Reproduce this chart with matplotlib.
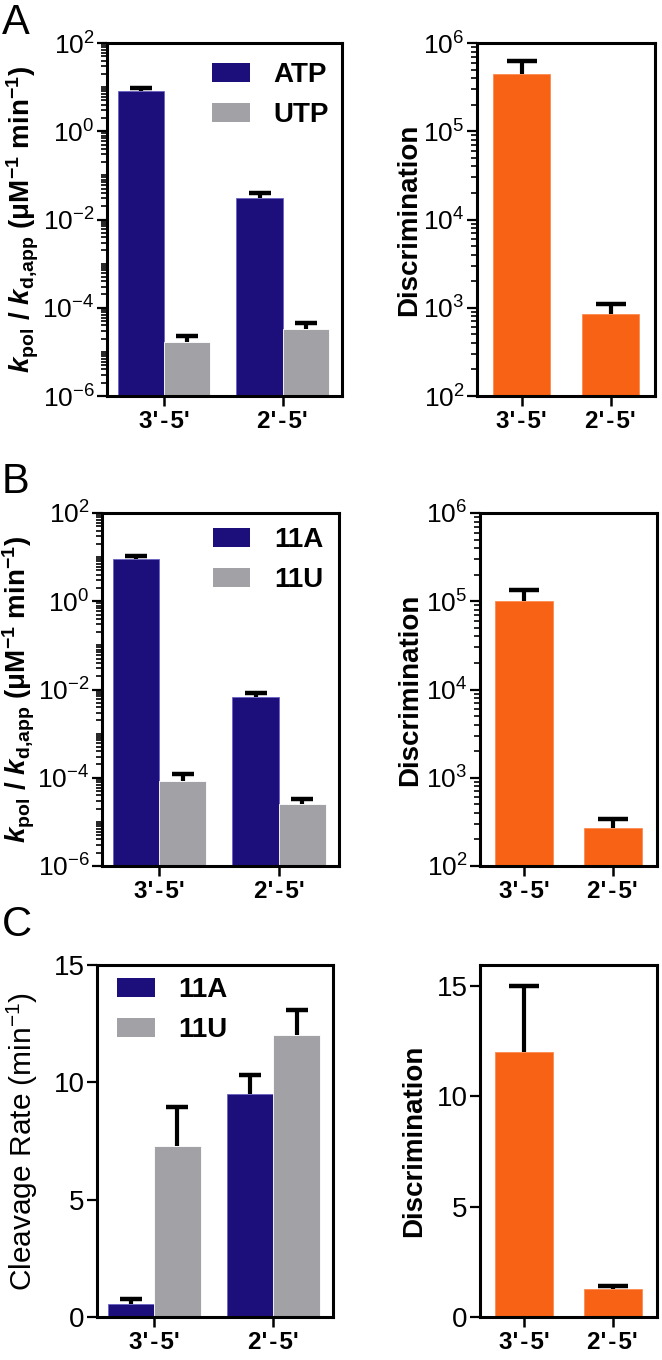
import numpy as np
import matplotlib
matplotlib.use("Agg")
import matplotlib.pyplot as plt
import matplotlib.ticker as mticker
from matplotlib.patches import Patch

plt.rcParams["font.family"] = ["Liberation Sans", "DejaVu Sans"]
plt.rcParams["mathtext.fontset"] = "custom"
plt.rcParams["mathtext.rm"] = "Liberation Sans"
plt.rcParams["mathtext.it"] = "Liberation Sans:italic"
plt.rcParams["mathtext.bf"] = "Liberation Sans:bold"
plt.rcParams["mathtext.bfit"] = "Liberation Sans:italic:bold"

# ----------------------------
# Data
# ----------------------------
linkages = ["3'\u200a-\u200a5'", "2'\u200a-\u200a5'"]

# A: ATP vs UTP
atp = [8.1, 0.030]
atp_err = [1.4, 0.009]
utp = [1.7e-5, 3.3e-5]
utp_err = [0.6e-5, 1.1e-5]
disc_a = [4.4e5, 860]
disc_a_err = [1.8e5, 240]

# B: 11A vs 11U
a11 = [9.0, 0.0069]
a11_err = [1.5, 0.0016]
u11 = [8.5e-5, 2.6e-5]
u11_err = [3.5e-5, 0.7e-5]
disc_b = [1.0e5, 270]
disc_b_err = [0.33e5, 70]

# C: cleavage
cleave_a = [0.55, 9.5]
cleave_a_err = [0.22, 0.8]
cleave_u = [7.3, 12.0]
cleave_u_err = [1.65, 1.1]
disc_c = [12.0, 1.27]
disc_c_err = [3.0, 0.13]

BLUE = "#1c0f7c"
GRAY = "#a2a2a6"
ORANGE = "#f86214"

W, H = 662, 1360
fig = plt.figure(figsize=(W / 100, H / 100), dpi=100)


def box(x0, y0, x1, y1):
    # pixel box -> figure fraction
    return [x0 / W, 1 - y1 / H, (x1 - x0) / W, (y1 - y0) / H]


def style(ax, ysize=19):
    for s in ax.spines.values():
        s.set_linewidth(2.2)
    ax.tick_params(axis="y", which="major", direction="out", length=7,
                   width=1.6, labelsize=ysize, pad=2)
    ax.tick_params(axis="y", which="minor", direction="out", length=4,
                   width=1.2)
    ax.tick_params(axis="x", which="major", direction="out", length=7,
                   width=1.8, labelsize=17.5, pad=3)
    ax.tick_params(axis="x", which="minor", bottom=False)
    for lab in ax.get_xticklabels():
        lab.set_fontweight("bold")


def up_err(ax, x, vals, errs, cap):
    # upper-only error bars, as Prism draws them
    vals = np.asarray(vals)
    top = vals + np.asarray(errs)
    ax.vlines(x, vals, top, colors="black", linewidth=3, zorder=3)
    ax.plot(x, top, ls="none", marker="_", markersize=cap,
            markeredgewidth=3.2, color="black", zorder=3)


def grouped(ax, s1, e1, s2, e2, names, leg_xy):
    x = np.arange(len(linkages))
    w = 0.39
    ax.bar(x - w / 2, s1, w, color=BLUE, edgecolor="#6a63c4", linewidth=0.6,
           zorder=2)
    ax.bar(x + w / 2, s2, w, color=GRAY, edgecolor="white", linewidth=0.6,
           zorder=2)
    up_err(ax, x - w / 2, s1, e1, 16)
    up_err(ax, x + w / 2, s2, e2, 16)
    ax.set_xticks(x)
    ax.set_xticklabels(linkages)
    ax.set_xlim(-0.48, 1.5)
    handles = [Patch(facecolor=BLUE, label=names[0]),
               Patch(facecolor=GRAY, label=names[1])]
    ax.legend(handles=handles, loc="upper left", bbox_to_anchor=leg_xy,
              frameon=False, borderpad=0, borderaxespad=0,
              handlelength=1.35, handleheight=0.68, handletextpad=0.85,
              labelspacing=0.5, prop={"size": 20, "weight": "bold"})


def single(ax, vals, errs):
    x = np.arange(len(linkages))
    ax.bar(x, vals, 0.65, color=ORANGE, edgecolor="#fb8a50", linewidth=0.6,
           zorder=2)
    up_err(ax, x, vals, errs, 21)
    ax.set_xticks(x)
    ax.set_xticklabels(linkages)
    ax.set_xlim(-0.5, 1.5)


def log_axis(ax, lo, hi, step):
    ax.set_yscale("log")
    ax.set_ylim(10.0 ** lo, 10.0 ** hi)
    ax.yaxis.set_major_locator(
        mticker.FixedLocator(10.0 ** np.arange(lo, hi + 1, step)))
    ax.yaxis.set_major_formatter(mticker.FuncFormatter(
        lambda v, p: r"$\mathregular{10^{%d}}$" % round(np.log10(v))))
    ax.yaxis.set_minor_locator(
        mticker.LogLocator(base=10, subs=np.arange(1, 10), numticks=100))
    ax.yaxis.set_minor_formatter(mticker.NullFormatter())


kpol_label = (r"$\mathbfit{k}_{\mathbf{pol}}$ / $\mathbfit{k}_{\mathbf{d{,}app}}$"
              r" ($\mathbf{\mu}$M$^{\mathbf{-1}}$ min$^{\mathbf{-1}}$)")

# ----------------------------
# A
# ----------------------------
ax = fig.add_axes(box(107, 43, 342, 396))
grouped(ax, atp, atp_err, utp, utp_err, ["ATP", "UTP"], (0.447, 0.945))
log_axis(ax, -6, 2, 2)
style(ax)
ax.set_ylabel(kpol_label, fontsize=20, fontweight="bold")
ax.yaxis.set_label_coords(-0.28, 0.5)

ax = fig.add_axes(box(477, 43, 655, 396))
single(ax, disc_a, disc_a_err)
log_axis(ax, 2, 6, 1)
style(ax)
ax.set_ylabel("Discrimination", fontsize=20, fontweight="bold")
ax.yaxis.set_label_coords(-0.31, 0.5)

# ----------------------------
# B
# ----------------------------
ax = fig.add_axes(box(102, 513, 339, 866))
grouped(ax, a11, a11_err, u11, u11_err, ["11A", "11U"], (0.468, 0.96))
log_axis(ax, -6, 2, 2)
style(ax)
ax.set_ylabel(kpol_label, fontsize=20, fontweight="bold")
ax.yaxis.set_label_coords(-0.275, 0.5)

ax = fig.add_axes(box(480, 513, 657, 866))
single(ax, disc_b, disc_b_err)
log_axis(ax, 2, 6, 1)
style(ax)
ax.set_ylabel("Discrimination", fontsize=20, fontweight="bold")
ax.yaxis.set_label_coords(-0.32, 0.5)

# ----------------------------
# C
# ----------------------------
ax = fig.add_axes(box(97, 965, 333, 1317))
grouped(ax, cleave_a, cleave_a_err, cleave_u, cleave_u_err, ["11A", "11U"],
        (0.085, 0.965))
ax.set_ylim(0, 15)
ax.set_yticks([0, 5, 10, 15])
style(ax, ysize=20)
ax.set_ylabel(r"Cleavage Rate (min$^{-1}$)", fontsize=21.5)
ax.yaxis.set_label_coords(-0.24, 0.5)

ax = fig.add_axes(box(480, 965, 657, 1317))
single(ax, disc_c, disc_c_err)
ax.set_ylim(0, 15.95)
ax.set_yticks([0, 5, 10, 15])
style(ax, ysize=20)
ax.set_ylabel("Discrimination", fontsize=20, fontweight="bold")
ax.yaxis.set_label_coords(-0.30, 0.5)

# ----------------------------
# Panel letters
# ----------------------------
fig.text(2 / W, 1 - 3 / H, "A", fontsize=30, va="top", ha="left")
fig.text(2 / W, 1 - 462 / H, "B", fontsize=30, va="top", ha="left")
fig.text(2 / W, 1 - 905 / H, "C", fontsize=30, va="top", ha="left")

fig.savefig("out.png", dpi=100)
